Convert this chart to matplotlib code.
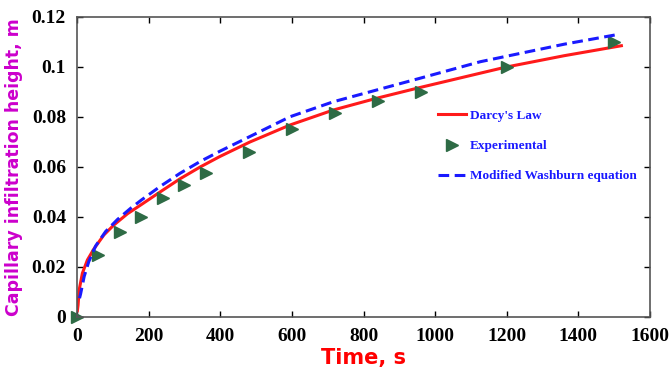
import matplotlib
matplotlib.use('Agg')
import matplotlib.pyplot as plt

# 读图得到的数据点
darcy_t = [1, 3, 6, 15, 29, 47, 75, 103, 141, 180, 232, 288, 344, 399, 483,
           595, 716, 837, 958, 1196, 1360, 1520]
darcy_h = [0.0025, 0.0048, 0.0108, 0.0175, 0.0228, 0.0272, 0.0328, 0.0368,
           0.0413, 0.0450, 0.0500, 0.0553, 0.0600, 0.0642, 0.0700, 0.0768,
           0.0828, 0.0875, 0.0918, 0.0999, 0.1045, 0.1085]

wash_t = [7, 10, 20, 33, 52, 80, 113, 150, 180, 232, 288, 344, 399, 483, 595,
          716, 837, 958, 1126, 1360, 1510]
wash_h = [0.0075, 0.0092, 0.0162, 0.0222, 0.0284, 0.0342, 0.0390, 0.0435,
          0.0468, 0.0522, 0.0575, 0.0622, 0.0663, 0.0722, 0.0801, 0.0861,
          0.0908, 0.0955, 0.1021, 0.1091, 0.1130]

exp_t = [0, 60, 120, 180, 240, 300, 360, 480, 600, 720, 840, 960, 1200, 1500]
exp_h = [0, 0.0248, 0.0339, 0.0399, 0.0475, 0.0527, 0.0577, 0.0661, 0.0752,
         0.0815, 0.0864, 0.0900, 0.1001, 0.1099]

xticks = [0, 200, 400, 600, 800, 1000, 1200, 1400, 1600]
yticks = [0, 0.02, 0.04, 0.06, 0.08, 0.1, 0.12]
ytick_labels = ['0', '0.02', '0.04', '0.06', '0.08', '0.1', '0.12']

fig = plt.figure(figsize=(6.72, 3.69), dpi=100)
ax = fig.add_axes([0.1146, 0.141, 0.8527, 0.813])

ax.plot(darcy_t, darcy_h, color='#ff1a1a', lw=2.2, label="Darcy's Law",
        solid_joinstyle='round')
ax.plot(exp_t, exp_h, ls='none', marker='>', ms=8, color='#2e6b45',
        label='Experimental', clip_on=False)
ax.plot(wash_t, wash_h, color='#1a1aff', lw=2.2, ls=(0, (3.5, 1.8)),
        label='Modified Washburn equation')

ax.set_xlim(0, 1600)
ax.set_ylim(0, 0.12)
ax.set_xticks(xticks)
ax.set_yticks(yticks)
ax.set_yticklabels(ytick_labels)
ax.tick_params(direction='in', top=True, right=True, length=4, width=1, pad=8)
for lab in ax.get_xticklabels() + ax.get_yticklabels():
    lab.set_fontfamily('Liberation Serif')
    lab.set_fontweight('bold')
    lab.set_fontsize(14)
for sp in ax.spines.values():
    sp.set_color('#555555')
    sp.set_linewidth(1.2)

ax.set_xlabel('Time, s', color='#ff0000', fontsize=15, fontweight='bold',
              family='DejaVu Sans', labelpad=2)
ax.set_ylabel('Capillary infiltration height, m', color='#cc00cc', fontsize=12.5,
              fontweight='bold', family='DejaVu Sans', labelpad=6)

leg = ax.legend(loc='upper left', bbox_to_anchor=(0.609, 0.73), frameon=False,
                prop={'family': 'Liberation Serif', 'weight': 'bold', 'size': 9.5},
                labelspacing=1.35, handlelength=2.1, handletextpad=0.35)
for t in leg.get_texts():
    t.set_color('#1a1aff')

fig.savefig('out.png', dpi=100)
